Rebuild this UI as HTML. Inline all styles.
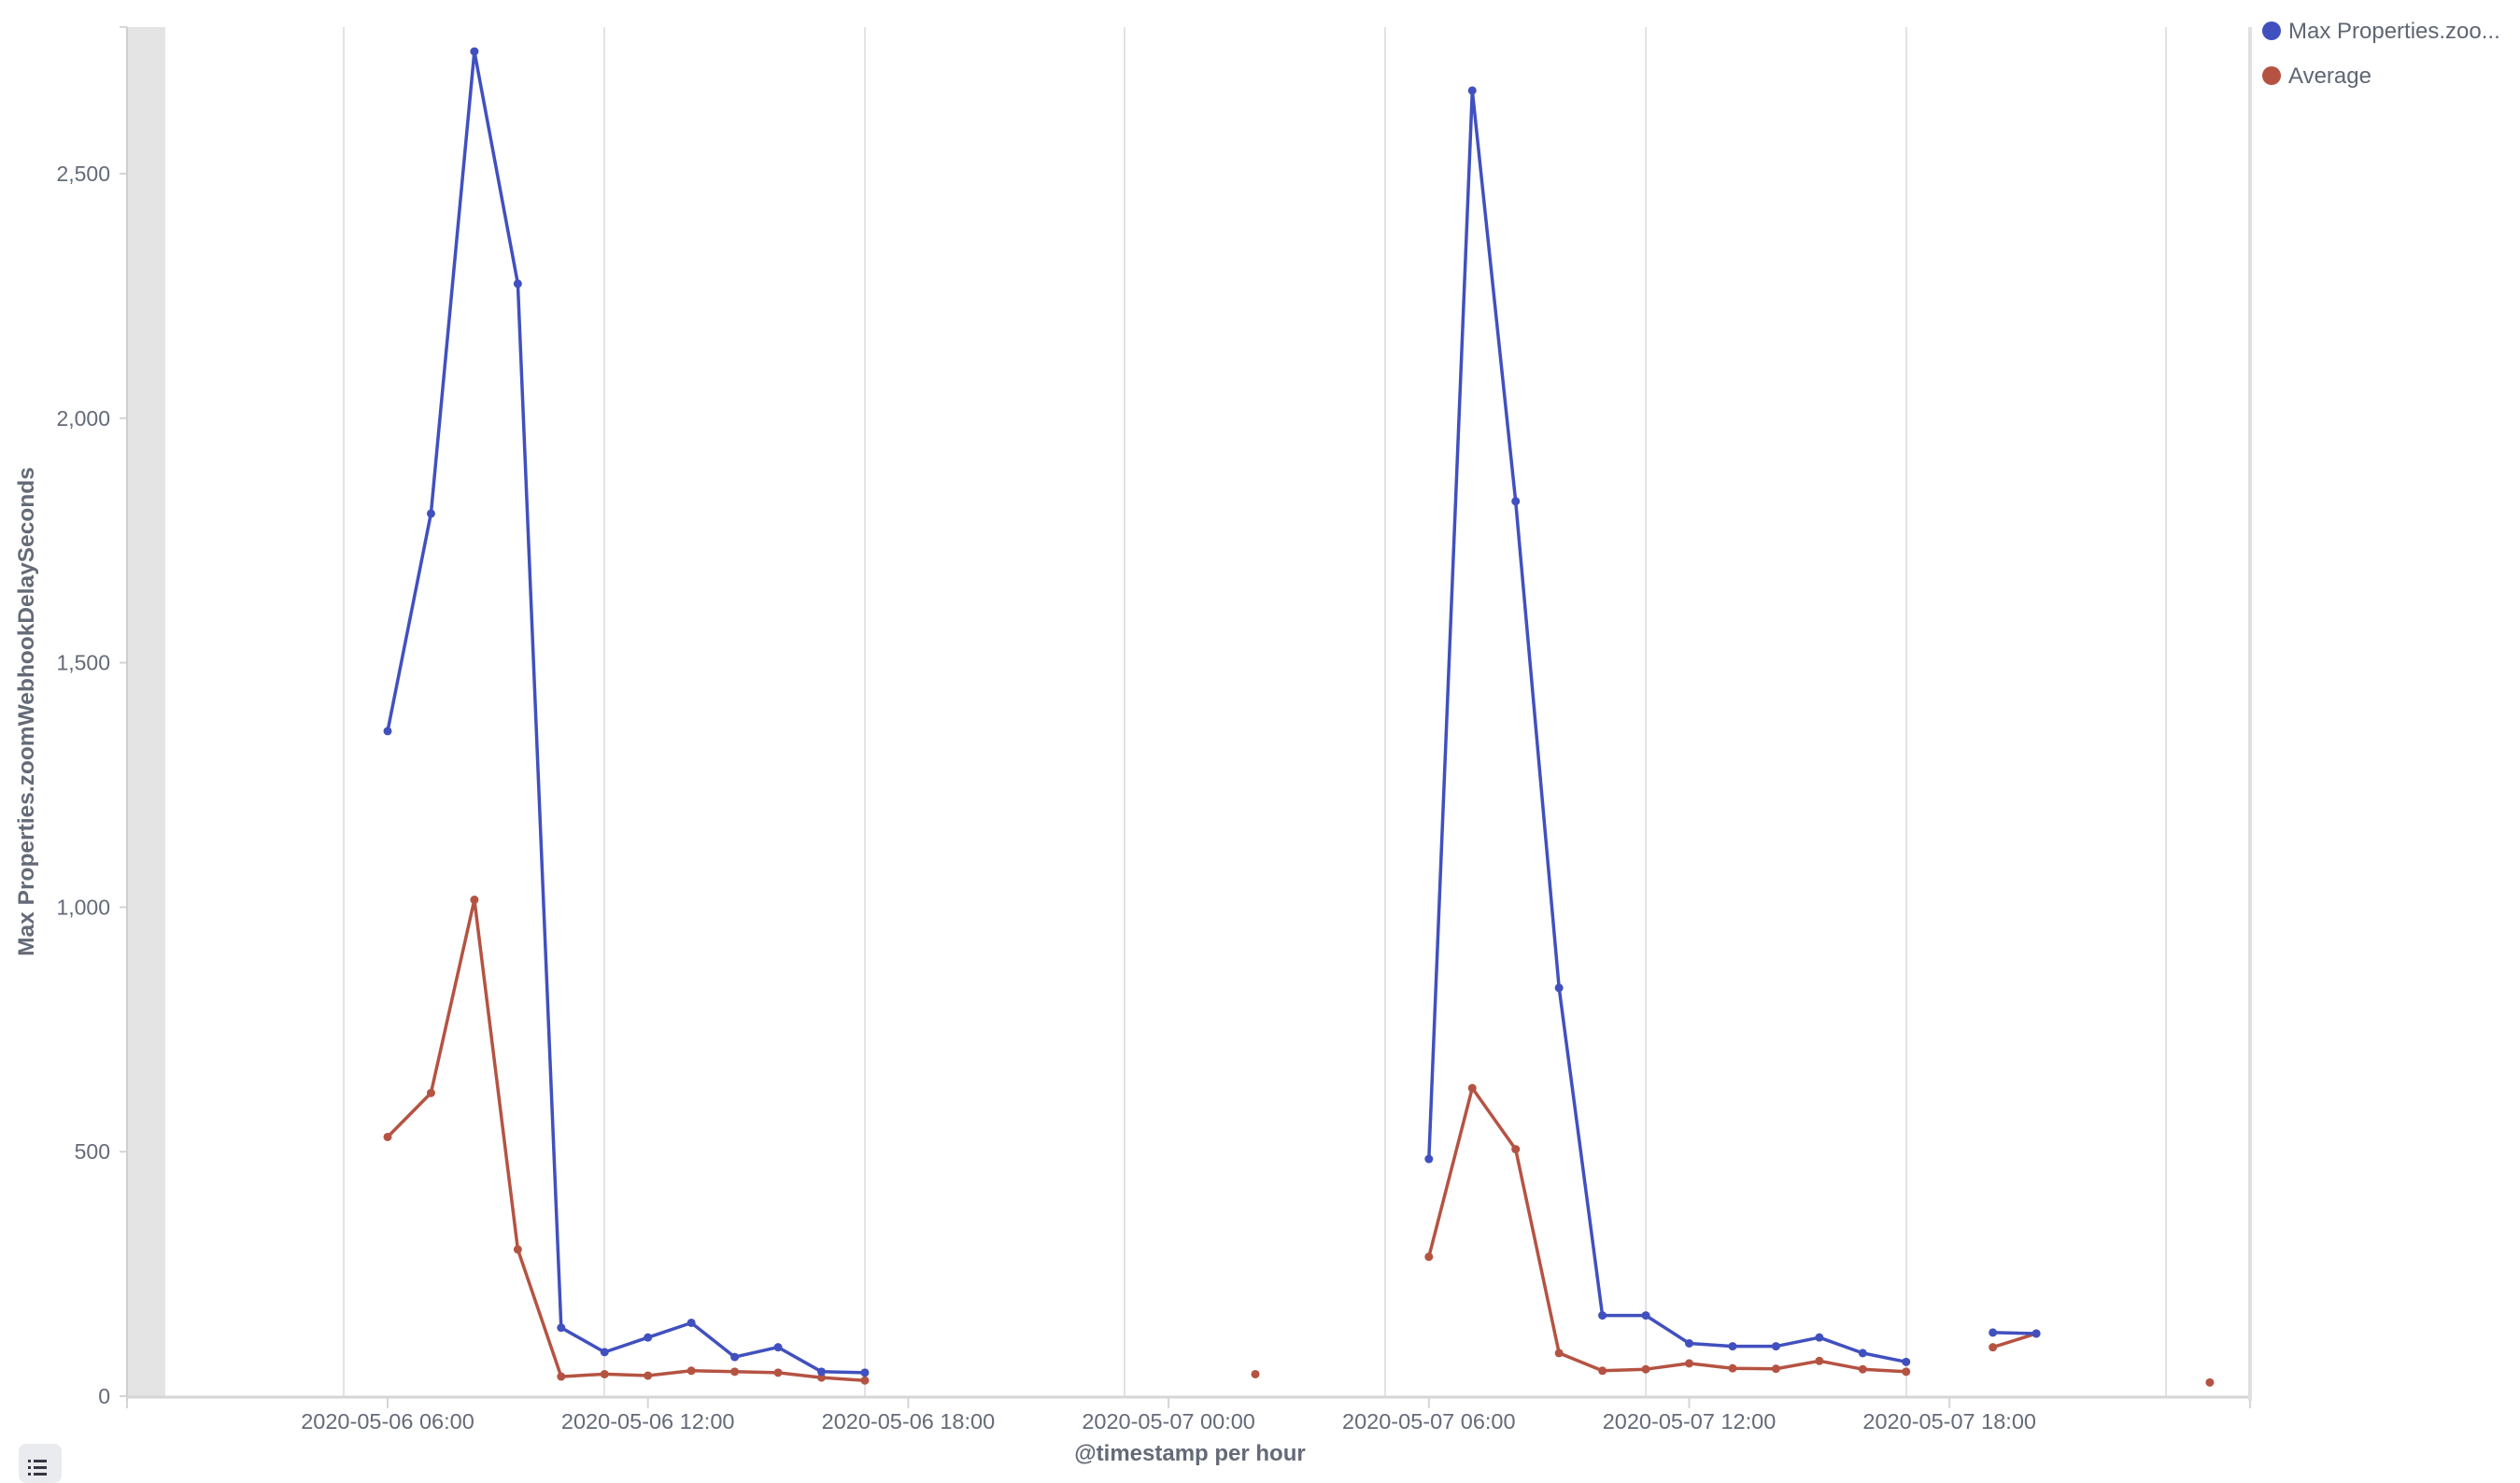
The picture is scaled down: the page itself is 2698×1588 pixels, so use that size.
<!DOCTYPE html>
<html><head><meta charset="utf-8">
<style>
html,body{margin:0;padding:0;background:#fff;}
svg{display:block;font-family:"Liberation Sans",sans-serif;}
</style></head>
<body>
<svg id="c" width="2698" height="1588" viewBox="0 0 2698 1588" xmlns="http://www.w3.org/2000/svg">
<rect x="0" y="0" width="2698" height="1588" fill="#fff"/>
<rect x="136" y="29" width="41" height="1466" fill="#e4e4e4"/>
<g id="grid" stroke="#e3e3e3" stroke-width="2"></g>
<line x1="136" y1="29" x2="136" y2="1500" stroke="#cfcfcf" stroke-width="2"/>
<line x1="136" y1="1496" x2="2410" y2="1496" stroke="#d6d6d6" stroke-width="3"/>
<line x1="2409" y1="29" x2="2409" y2="1500" stroke="#e0e0e0" stroke-width="4"/>
<g id="yt" fill="#646a77" font-size="23" text-anchor="end"></g>
<g id="xt" fill="#646a77" font-size="23.5" text-anchor="middle"></g>
<text x="1274" y="1564" font-size="24" font-weight="bold" fill="#646a77" text-anchor="middle">@timestamp per hour</text>
<text transform="translate(36,762) rotate(-90)" font-size="24.5" font-weight="bold" fill="#646a77" text-anchor="middle">Max Properties.zoomWebhookDelaySeconds</text>
<g id="series"></g>
<circle cx="2432" cy="33" r="10" fill="#4150bf"/>
<text x="2450" y="41" font-size="24" fill="#5f6673">Max Properties.zoo...</text>
<circle cx="2432" cy="81" r="10" fill="#b55342"/>
<text x="2450" y="89" font-size="24" fill="#5f6673">Average</text>
<rect x="20" y="1546" width="46" height="42" rx="8" fill="#e9ebee"/>
<g fill="#343741"><rect x="30" y="1563" width="3" height="3"/><rect x="36" y="1563" width="14" height="3"/><rect x="30" y="1570" width="3" height="3"/><rect x="36" y="1570" width="14" height="3"/><rect x="30" y="1577" width="3" height="3"/><rect x="36" y="1577" width="14" height="3"/></g>
</svg>
<script>
var NS="http://www.w3.org/2000/svg";
function el(t,a,p){var e=document.createElementNS(NS,t);for(var k in a)e.setAttribute(k,a[k]);p.appendChild(e);return e;}
var X=function(h){return 415+h*46.45;},Y=function(v){return 1495-v*0.5236;};
var g=document.getElementById('grid');
[368,647,926,1204,1483,1762,2041,2319].forEach(function(x){el('line',{x1:x,y1:29,x2:x,y2:1495},g);});
var yt=document.getElementById('yt');
[0,500,1000,1500,2000,2500].forEach(function(v){var y=Y(v);el('line',{x1:128,y1:y,x2:136,y2:y,stroke:'#d6d6d6','stroke-width':2},g);var t=el('text',{x:118,y:y+8},yt);t.textContent=v.toLocaleString('en-US');});
el('line',{x1:128,y1:29,x2:136,y2:29,stroke:'#d6d6d6','stroke-width':2},g);
var xt=document.getElementById('xt');
var labs=['2020-05-06 06:00','2020-05-06 12:00','2020-05-06 18:00','2020-05-07 00:00','2020-05-07 06:00','2020-05-07 12:00','2020-05-07 18:00'];
el('line',{x1:136,y1:1496,x2:136,y2:1508,stroke:'#d6d6d6','stroke-width':2},g);
el('line',{x1:2409,y1:1496,x2:2409,y2:1508,stroke:'#d6d6d6','stroke-width':2},g);
labs.forEach(function(l,i){var x=X(i*6);el('line',{x1:x,y1:1496,x2:x,y2:1508,stroke:'#d6d6d6','stroke-width':2},g);var t=el('text',{x:x,y:1530},xt);t.textContent=l;});
var s=document.getElementById('series');
function draw(segs,col){segs.forEach(function(seg){var d=seg.map(function(p,i){return (i?'L':'M')+X(p[0]).toFixed(1)+' '+Y(p[1]).toFixed(1);}).join(' ');
if(seg.length>1)el('path',{d:d,fill:'none',stroke:col,'stroke-width':3.5,'stroke-linejoin':'round'},s);
seg.forEach(function(p){el('circle',{cx:X(p[0]),cy:Y(p[1]),r:4.5,fill:col},s);});});}
function mk(h0,vals){return vals.map(function(v,i){return [h0+i,v];});}
draw([mk(0,[530,620,1015,300,40,45,42,52,50,48,38,32]),[[20,45]],mk(24,[285,630,505,88,52,55,67,57,56,72,55,50]),mk(37,[100,128]),[[42,28]]],'#b55342');
draw([mk(0,[1360,1805,2750,2275,140,90,120,150,80,100,50,48]),mk(24,[485,2670,1830,835,165,165,108,102,102,120,88,70]),mk(37,[130,128])],'#4150bf');
</script>
</body></html>
